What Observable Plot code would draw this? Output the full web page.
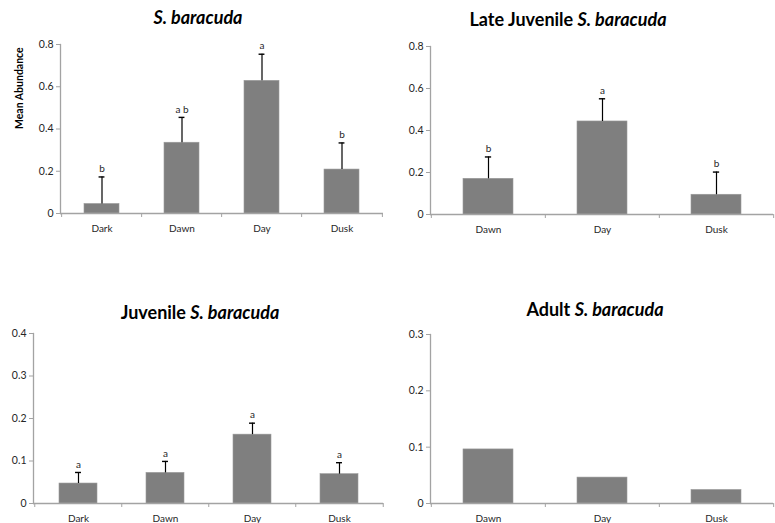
<!DOCTYPE html>
<html>
<head>
<meta charset="utf-8">
<script src="https://cdn.jsdelivr.net/npm/d3@7"></script>
<script src="https://cdn.jsdelivr.net/npm/@observablehq/plot@0.6"></script>
<style>
  body { margin: 0; background: #fff; }
  #page { position: relative; width: 775px; height: 523px; overflow: hidden; background: #fff; font-family: Lato, "Open Sans", sans-serif; }
  .title { position: absolute; font-weight: bold; font-size: 18px; line-height: 18px; color: #000; transform: translateX(-50%); white-space: nowrap; }
  .panel { position: absolute; }
</style>
</head>
<body>
<div id="page"></div>
<script>
// Mean abundance of S. baracuda by diel period, overall and by life stage.
const periodsAll = ["Dark", "Dawn", "Day", "Dusk"];
const periodsLit = ["Dawn", "Day", "Dusk"];

const allMean = [0.045, 0.335, 0.628, 0.208];
const allSE = [0.128, 0.12, 0.126, 0.126];
const allGroup = ["b", "a b", "a", "b"];

const lateJuvMean = [0.17, 0.443, 0.094];
const lateJuvSE = [0.104, 0.108, 0.108];
const lateJuvGroup = ["b", "a", "b"];

const juvMean = [0.047, 0.072, 0.162, 0.069];
const juvSE = [0.026, 0.027, 0.027, 0.027];
const juvGroup = ["a", "a", "a", "a"];

const adultMean = [0.096, 0.046, 0.024];

const yTicksAll = [0, 0.2, 0.4, 0.6, 0.8];
const yTicksLateJuv = [0, 0.2, 0.4, 0.6, 0.8];
const yTicksJuv = [0, 0.1, 0.2, 0.3, 0.4];
const yTicksAdult = [0, 0.1, 0.2, 0.3];

const page = document.getElementById("page");
const AXIS = "#a3a3a3";
const TEXT = "#262626";
const BAR = "#7f7f7f";
const GAP = 0.565; // gap between bars relative to category width

function fmt(d) { return d === 0 ? "0" : d.toFixed(1); }

function panel(cfg) {
  const {left, top, width, height, mt, mr, mb, ml, cats, mean, se, group, yTicks, yLabel, title, titleX, titleY} = cfg;
  const rows = cats.map((c, i) => ({
    period: c,
    mean: mean[i],
    upper: se ? mean[i] + se[i] : null,
    group: group ? group[i] : null
  }));
  const step = (width - ml - mr) / cats.length;
  const bw = step * (1 - GAP);
  const cap = 6;

  const marks = [
    Plot.barY(rows, {x: "period", y: "mean", fill: BAR, stroke: "#9a9a9a", strokeWidth: 0.6}),
    Plot.frame({anchor: "left", stroke: AXIS, strokeWidth: 1.3}),
    Plot.ruleY([0], {stroke: AXIS, strokeWidth: 1.3}),
    Plot.axisY({ticks: yTicks, tickSize: 4, tickPadding: 3, tickFormat: fmt, stroke: AXIS, fill: TEXT, fontSize: 10.5}),
    // boundary ticks between categories (and at both ends)
    Plot.axisX({tickSize: 4, fill: "none", stroke: AXIS, dx: -step / 2}),
    Plot.axisX({ticks: [cats[cats.length - 1]], tickSize: 4, fill: "none", stroke: AXIS, dx: step / 2}),
    Plot.axisX({tickSize: 0, tickPadding: 11, fill: TEXT, fontSize: 10})
  ];
  if (se) {
    marks.push(
      Plot.ruleX(rows, {x: "period", y1: "mean", y2: "upper", stroke: "#000", strokeWidth: 1.2}),
      Plot.tickY(rows, {x: "period", y: "upper", stroke: "#000", strokeWidth: 1.4, insetLeft: (bw - cap) / 2, insetRight: (bw - cap) / 2})
    );
  }
  if (group) {
    marks.push(Plot.text(rows, {x: "period", y: "upper", text: "group", dy: -8, fontSize: 10, fill: TEXT}));
  }
  if (yLabel) {
    marks.push(Plot.text([yLabel], {frameAnchor: "left", rotate: -90, dx: -41, fontSize: 10.5, fontWeight: "bold", fill: "#000"}));
  }

  const chart = Plot.plot({
    width, height,
    marginTop: mt, marginRight: mr, marginBottom: mb, marginLeft: ml,
    style: {fontFamily: "Lato, 'Open Sans', sans-serif", fontSize: "10px", background: "transparent", overflow: "visible"},
    x: {type: "band", domain: cats, paddingInner: GAP, paddingOuter: GAP / 2, label: null},
    y: {domain: [0, yTicks[yTicks.length - 1]], label: null},
    marks
  });
  const wrap = document.createElement("div");
  wrap.className = "panel";
  wrap.style.left = left + "px";
  wrap.style.top = top + "px";
  wrap.appendChild(chart);
  page.appendChild(wrap);

  const t = document.createElement("div");
  t.className = "title";
  t.innerHTML = title;
  t.style.left = titleX + "px";
  t.style.top = titleY + "px";
  page.appendChild(t);
}

panel({left: 0, top: 30, width: 390, height: 210, mt: 14, mr: 7, mb: 27, ml: 60,
  cats: periodsAll, mean: allMean, se: allSE, group: allGroup, yTicks: yTicksAll,
  yLabel: "Mean Abundance", title: "<i>S. baracuda</i>", titleX: 198, titleY: 8});

panel({left: 390, top: 30, width: 385, height: 210, mt: 16, mr: 2, mb: 26, ml: 40,
  cats: periodsLit, mean: lateJuvMean, se: lateJuvSE, group: lateJuvGroup, yTicks: yTicksLateJuv,
  title: "Late Juvenile <i>S. baracuda</i>", titleX: 568, titleY: 10});

panel({left: 0, top: 320, width: 390, height: 203, mt: 13, mr: 7, mb: 20, ml: 33,
  cats: periodsAll, mean: juvMean, se: juvSE, group: juvGroup, yTicks: yTicksJuv,
  title: "Juvenile <i>S. baracuda</i>", titleX: 200, titleY: 303});

panel({left: 390, top: 320, width: 385, height: 203, mt: 14, mr: 2, mb: 20, ml: 40,
  cats: periodsLit, mean: adultMean, yTicks: yTicksAdult,
  title: "Adult <i>S. baracuda</i>", titleX: 595, titleY: 300});
</script>
</body>
</html>
